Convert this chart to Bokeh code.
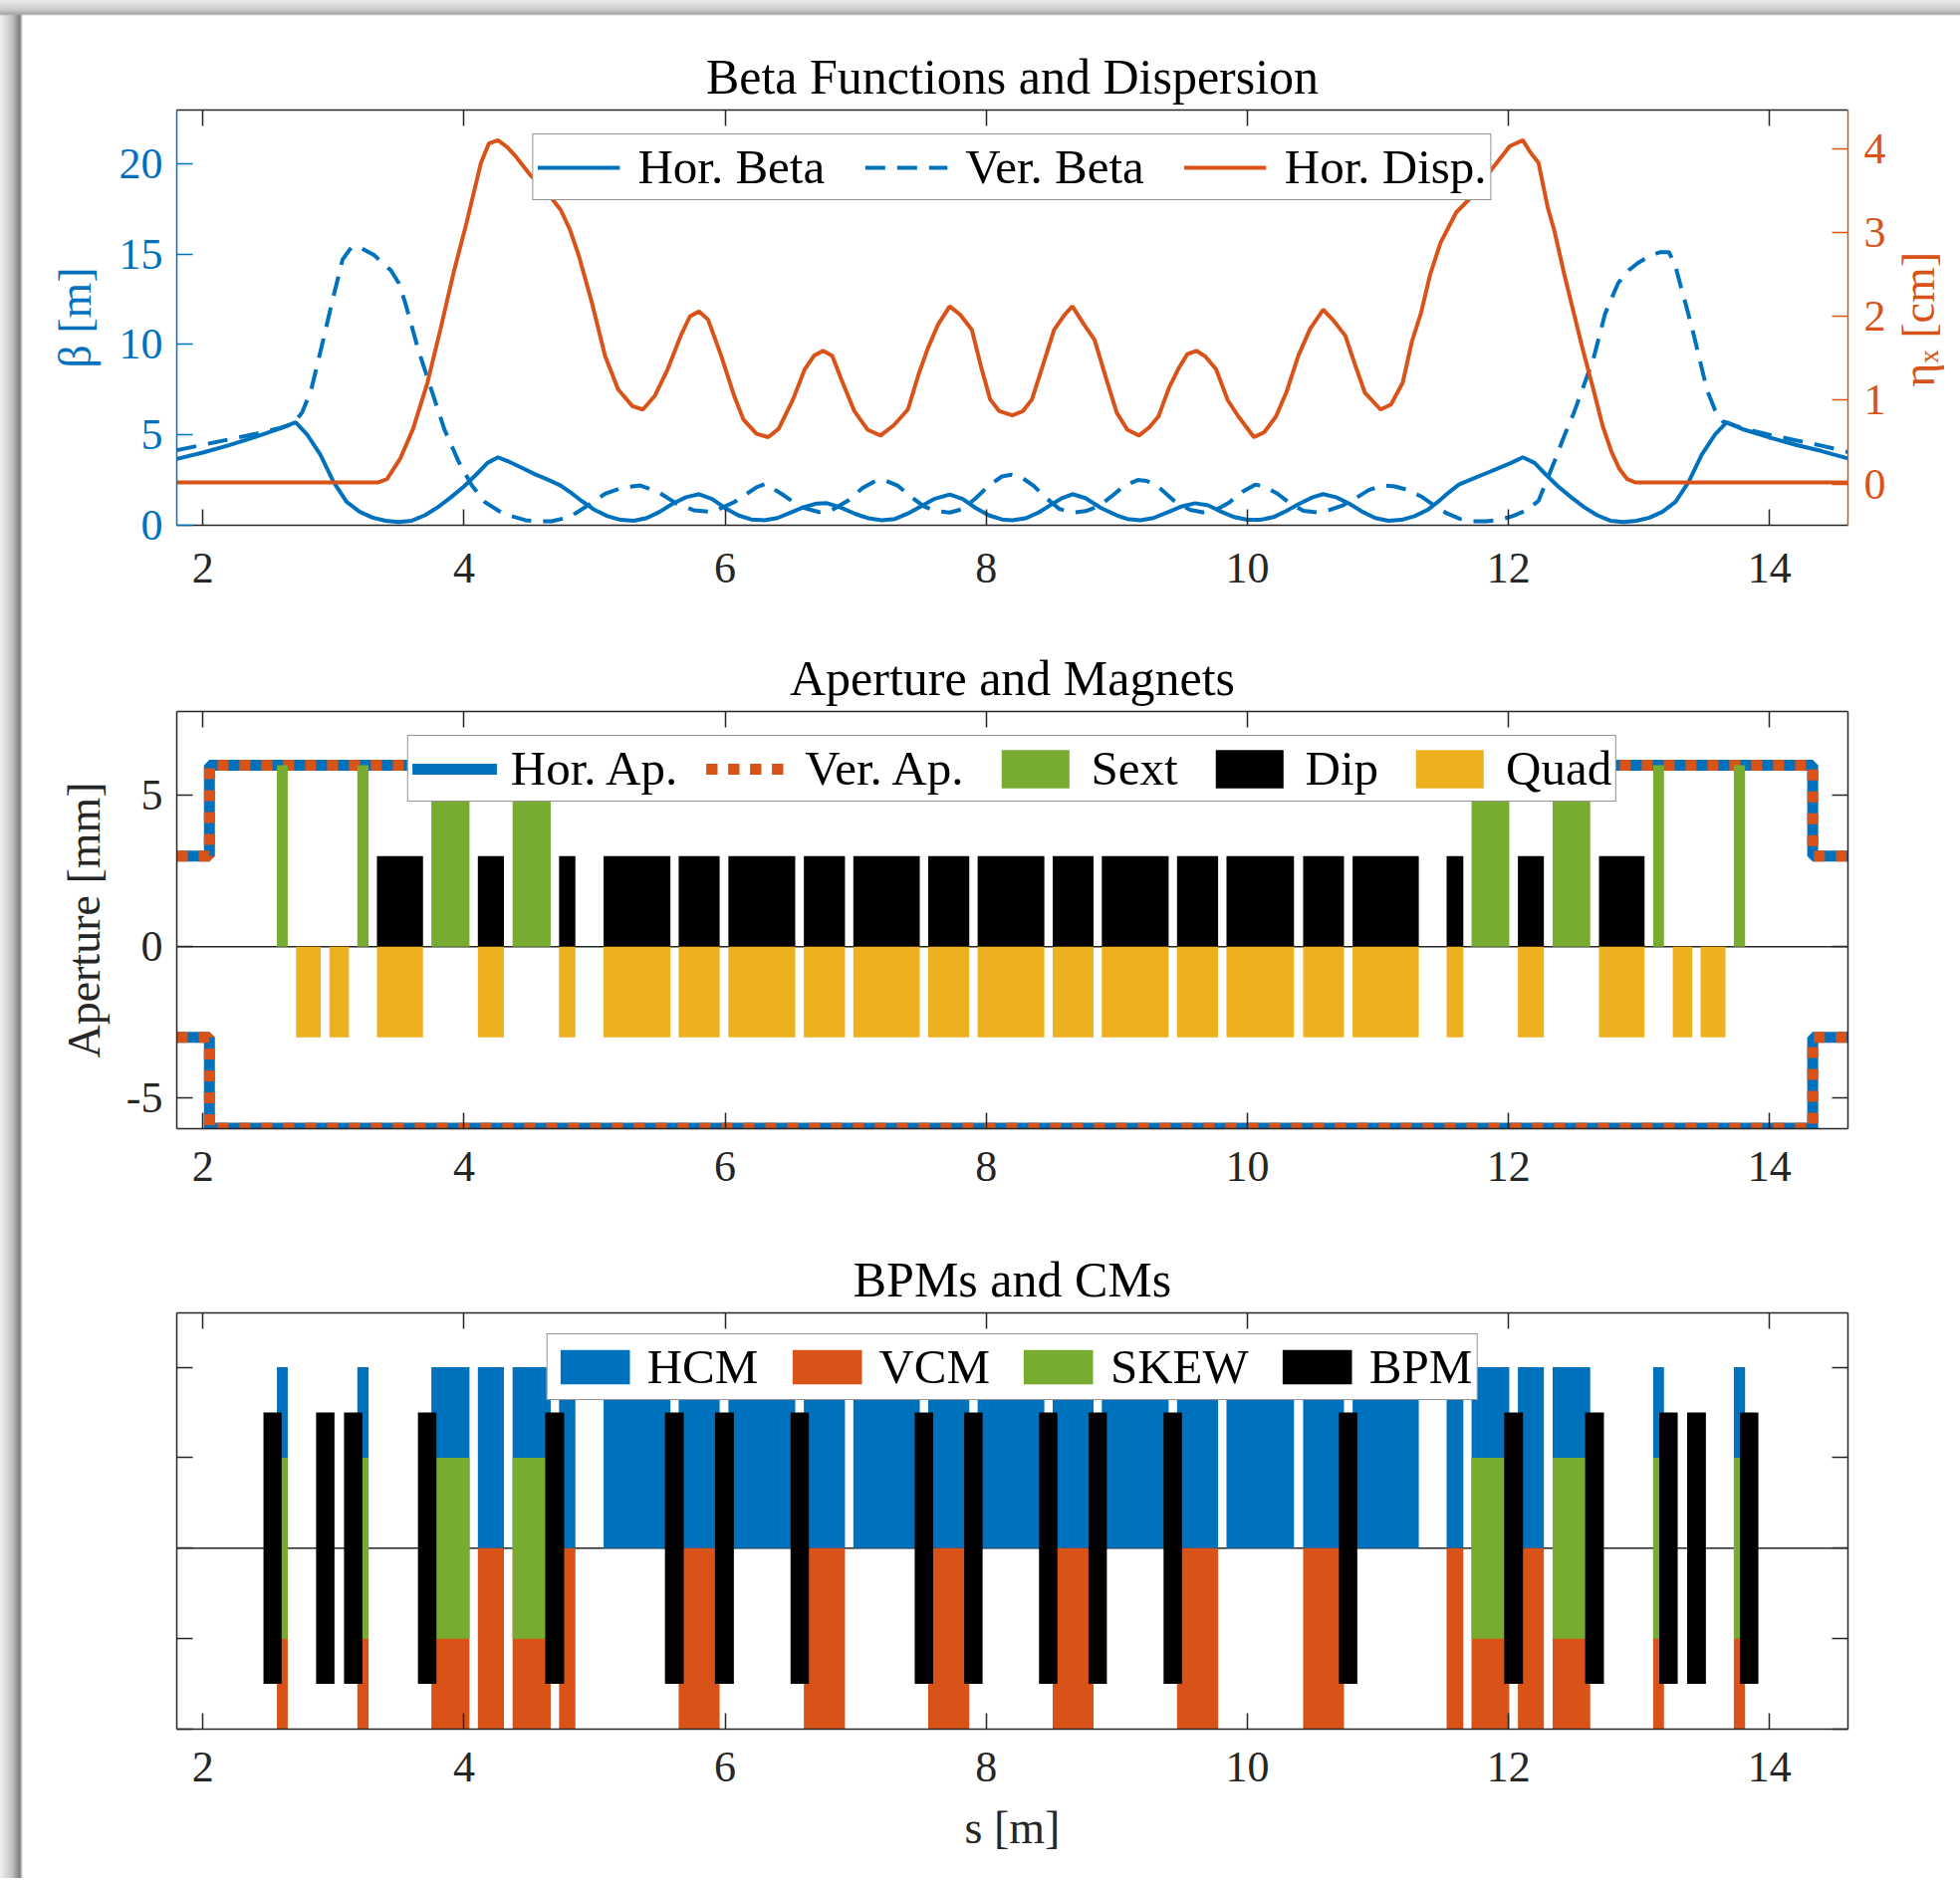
import math
from bokeh.plotting import figure
from bokeh.models import Range1d, LinearAxis, Legend, LegendItem, FixedTicker, Span, Div
from bokeh.layouts import column, row
from bokeh.embed import file_html
from bokeh.resources import INLINE

# ---------------- data ----------------
s_beta_x = [1.80, 2.00, 2.20, 2.40, 2.60, 2.71, 2.80, 2.90, 3.00, 3.10, 3.20, 3.30, 3.40, 3.50, 3.60, 3.70, 3.80, 3.90,
            4.00, 4.10, 4.18, 4.26, 4.35, 4.45, 4.55, 4.65, 4.74, 4.82, 4.90, 5.00, 5.10, 5.20, 5.30, 5.40, 5.50, 5.60,
            5.70, 5.80, 5.90, 6.00, 6.10, 6.20, 6.30, 6.40, 6.50, 6.60, 6.70, 6.78, 6.88, 7.00, 7.10, 7.20, 7.30, 7.40,
            7.50, 7.60, 7.72, 7.82, 7.92, 8.02, 8.12, 8.20, 8.30, 8.40, 8.50, 8.58, 8.66, 8.76, 8.88, 9.00, 9.08, 9.18,
            9.28, 9.40, 9.50, 9.60, 9.70, 9.80, 9.90, 10.00, 10.10, 10.20, 10.30, 10.40, 10.50, 10.58, 10.68, 10.78,
            10.88, 10.98, 11.08, 11.18, 11.28, 11.38, 11.46, 11.54, 11.62, 11.72, 11.82, 11.92, 12.02, 12.11, 12.20,
            12.28, 12.38, 12.48, 12.58, 12.68, 12.78, 12.88, 12.98, 13.08, 13.18, 13.28, 13.38, 13.48, 13.58, 13.67,
            13.80, 14.00, 14.20, 14.40, 14.60]
beta_x = [3.67, 4.02, 4.43, 4.88, 5.38, 5.69, 5.00, 3.90, 2.40, 1.30, 0.75, 0.42, 0.25, 0.18, 0.25, 0.55, 1.00, 1.55,
          2.15, 2.85, 3.45, 3.76, 3.50, 3.15, 2.80, 2.50, 2.20, 1.80, 1.35, 0.85, 0.50, 0.30, 0.25, 0.40, 0.75, 1.20,
          1.55, 1.72, 1.45, 0.95, 0.55, 0.32, 0.28, 0.40, 0.70, 1.00, 1.20, 1.22, 1.00, 0.62, 0.38, 0.28, 0.35, 0.65,
          1.05, 1.45, 1.70, 1.45, 0.95, 0.55, 0.32, 0.28, 0.38, 0.70, 1.15, 1.50, 1.72, 1.50, 0.95, 0.55, 0.35, 0.28,
          0.40, 0.75, 1.05, 1.22, 1.10, 0.75, 0.45, 0.30, 0.30, 0.45, 0.80, 1.20, 1.55, 1.72, 1.55, 1.20,
          0.75, 0.40, 0.25, 0.30, 0.50, 0.85, 1.30, 1.80, 2.25, 2.55, 2.85, 3.15, 3.45, 3.76, 3.45,
          2.85, 2.15, 1.55, 1.00, 0.55, 0.25, 0.18, 0.25, 0.42, 0.75, 1.30, 2.40, 3.90, 5.00, 5.69,
          5.30, 4.85, 4.45, 4.10, 3.70]

s_beta_y = [1.80, 2.00, 2.20, 2.40, 2.60, 2.69, 2.76, 2.83, 2.91, 3.00, 3.07, 3.14, 3.22, 3.31, 3.44, 3.50, 3.55, 3.60,
            3.65, 3.75, 3.85, 3.96, 4.06, 4.16, 4.30, 4.47, 4.57, 4.67, 4.81, 4.95, 5.08, 5.22, 5.35, 5.49, 5.63, 5.76,
            5.90, 6.07, 6.24, 6.31, 6.45, 6.58, 6.72, 6.82, 6.95, 7.05, 7.15, 7.22, 7.32, 7.42, 7.52, 7.62, 7.72, 7.82,
            7.92, 8.02, 8.12, 8.19, 8.26, 8.36, 8.46, 8.56, 8.66, 8.76, 8.86, 8.96, 9.06, 9.16, 9.23, 9.33, 9.43, 9.56,
            9.66, 9.76, 9.86, 9.96, 10.06, 10.13, 10.23, 10.33, 10.43, 10.53, 10.63, 10.73, 10.83, 10.93, 11.03,
            11.13, 11.23, 11.33, 11.43, 11.53, 11.63, 11.73, 11.83, 11.93, 12.03, 12.13, 12.23, 12.35, 12.43, 12.50,
            12.58, 12.65, 12.74, 12.84, 12.92, 12.99, 13.08, 13.16, 13.23, 13.28, 13.32, 13.37, 13.42, 13.47, 13.52,
            13.58, 13.64, 13.80, 14.00, 14.20, 14.40, 14.60]
beta_y = [4.15, 4.45, 4.75, 5.05, 5.40, 5.60, 6.24, 7.50, 9.90, 12.66, 14.70, 15.40, 15.30, 14.95, 14.10, 13.40, 12.30,
          11.00, 9.70, 7.50, 5.30, 3.50, 2.20, 1.28, 0.64, 0.28, 0.22, 0.22, 0.46, 1.10, 1.74, 2.10, 2.20, 1.83, 1.19,
          0.83, 0.73, 1.28, 2.10, 2.29, 1.65, 1.00, 0.73, 0.85, 1.40, 2.05, 2.45, 2.50, 2.20, 1.60, 1.05, 0.78, 0.70,
          0.90, 1.50, 2.20, 2.70, 2.80, 2.70, 2.20, 1.50, 0.90, 0.70, 0.78, 1.05, 1.60, 2.20, 2.50, 2.45, 2.05, 1.40,
          0.85, 0.72, 0.85, 1.25, 1.85, 2.25, 2.15, 1.75, 1.20, 0.80, 0.72, 0.85, 1.10, 1.50, 1.95, 2.20,
          2.15, 1.95, 1.60, 1.10, 0.65, 0.35, 0.22, 0.22, 0.30, 0.50, 0.80, 1.35, 3.50, 5.00, 6.20,
          7.80, 9.20, 11.70, 13.40, 14.10, 14.50, 14.90, 15.10, 15.10, 14.30, 13.20, 11.90, 10.50, 9.00, 7.50,
          6.40, 5.75, 5.35, 5.00, 4.70, 4.40, 4.05]

s_eta = [1.80, 2.50, 3.00, 3.34, 3.41, 3.51, 3.61, 3.72, 3.82, 3.92, 4.02, 4.13, 4.19, 4.26, 4.33, 4.40, 4.50, 4.64,
         4.74, 4.81, 4.88, 4.98, 5.08, 5.18, 5.29, 5.37, 5.46, 5.56, 5.66, 5.73, 5.80, 5.87, 5.97, 6.07, 6.14, 6.24,
         6.33, 6.41, 6.52, 6.61, 6.68, 6.75, 6.82, 6.89, 6.99, 7.09, 7.19, 7.29, 7.40, 7.48, 7.55, 7.63, 7.72, 7.80,
         7.89, 7.96, 8.03, 8.10, 8.20, 8.28, 8.35, 8.43, 8.52, 8.60, 8.66, 8.75, 8.83, 8.92, 9.00, 9.08, 9.17, 9.25,
         9.32, 9.40, 9.47, 9.54, 9.61, 9.68, 9.76, 9.85, 9.93, 10.05, 10.13, 10.22, 10.30, 10.39, 10.48, 10.58,
         10.66, 10.75, 10.83, 10.90, 11.02, 11.10, 11.19, 11.26, 11.33, 11.40, 11.48, 11.60, 11.72, 11.87, 12.01,
         12.11, 12.17, 12.23, 12.30, 12.35, 12.42, 12.50, 12.57, 12.65, 12.72, 12.79, 12.85, 12.91, 12.97, 13.03,
         13.50, 14.00, 14.60]
eta_x = [0.02, 0.02, 0.02, 0.02, 0.06, 0.30, 0.66, 1.21, 1.85, 2.52, 3.12, 3.83, 4.06, 4.10, 4.02, 3.90, 3.70, 3.47,
         3.27, 3.04, 2.72, 2.16, 1.53, 1.13, 0.93, 0.89, 1.05, 1.37, 1.77, 2.00, 2.06, 1.96, 1.53, 1.05, 0.77, 0.60,
         0.56, 0.66, 1.01, 1.37, 1.53, 1.59, 1.53, 1.25, 0.87, 0.65, 0.58, 0.70, 0.89, 1.30, 1.61, 1.90, 2.12, 2.02,
         1.84, 1.40, 1.01, 0.87, 0.82, 0.87, 1.01, 1.40, 1.84, 2.02, 2.12, 1.90, 1.72, 1.25, 0.85, 0.65, 0.58, 0.68,
         0.81, 1.15, 1.37, 1.55, 1.59, 1.52, 1.37, 1.00, 0.81, 0.56, 0.62, 0.81, 1.10, 1.53, 1.85, 2.08,
         1.95, 1.77, 1.40, 1.09, 0.89, 0.95, 1.21, 1.70, 2.04, 2.50, 2.88, 3.24, 3.43, 3.75, 4.03,
         4.10, 3.95, 3.83, 3.30, 3.03, 2.55, 2.04, 1.60, 1.13, 0.70, 0.38, 0.18, 0.06, 0.02, 0.02,
         0.02, 0.02, 0.02]

# aperture [mm]
ap_s = [1.80, 2.05, 2.05, 14.33, 14.33, 14.60]
ap_upper = [3, 3, 6, 6, 3, 3]
ap_lower = [-3, -3, -6, -6, -3, -3]

# magnets (start, end in m)
sext_start = [2.567, 3.183, 3.750, 4.372, 11.717, 12.338, 13.108, 13.726]
sext_end = [2.650, 3.269, 4.042, 4.664, 12.006, 12.626, 13.191, 13.812]
sext_top = 6.0
dip_start = [3.333, 4.106, 4.728, 5.069, 5.644, 6.025, 6.603, 6.982, 7.555, 7.934, 8.509, 8.885, 9.461, 9.840,
             10.427, 10.806, 11.526, 12.072, 12.693]
dip_end = [3.686, 4.306, 4.853, 5.581, 5.958, 6.537, 6.918, 7.491, 7.870, 8.445, 8.822, 9.397, 9.776, 10.357,
           10.740, 11.313, 11.654, 12.271, 13.042]
dip_top = 3.0
quad_start = [2.714, 2.969, 3.333, 4.106, 4.728, 5.069, 5.644, 6.025, 6.603, 6.982, 7.555, 7.934, 8.509, 8.885,
              9.461, 9.840, 10.427, 10.806, 11.526, 12.072, 12.693, 13.258, 13.471]
quad_end = [2.903, 3.119, 3.686, 4.306, 4.853, 5.581, 5.958, 6.537, 6.918, 7.491, 7.870, 8.445, 8.822, 9.397,
            9.776, 10.357, 10.740, 11.313, 11.654, 12.271, 13.042, 13.407, 13.662]
quad_bottom = -3.0

# correctors / BPMs
hcm_start = [2.567, 3.183, 3.750, 4.106, 4.372, 4.728, 5.069, 5.644, 6.025, 6.603, 6.982, 7.555, 7.934, 8.509,
             8.885, 9.461, 9.840, 10.427, 10.806, 11.526, 11.717, 12.072, 12.338, 13.108, 13.726]
hcm_end = [2.650, 3.269, 4.042, 4.306, 4.664, 4.853, 5.581, 5.958, 6.537, 6.918, 7.491, 7.870, 8.445, 8.822,
           9.397, 9.776, 10.357, 10.740, 11.313, 11.654, 12.006, 12.271, 12.626, 13.191, 13.812]
vcm_start = [2.567, 3.183, 3.750, 4.106, 4.372, 4.728, 5.644, 6.603, 7.555, 8.509, 9.461, 10.427, 11.526, 11.717,
             12.072, 12.338, 13.108, 13.726]
vcm_end = [2.650, 3.269, 4.042, 4.306, 4.664, 4.853, 5.958, 6.918, 7.870, 8.822, 9.776, 10.740, 11.654, 12.006,
           12.271, 12.626, 13.191, 13.812]
skew_start = sext_start
skew_end = sext_end
bpm_start = [2.464, 2.867, 3.081, 3.647, 4.622, 5.539, 5.922, 6.501, 7.452, 7.831, 8.404, 8.783, 9.358, 10.701,
             11.967, 12.587, 13.155, 13.368, 13.773]
bpm_end = [2.603, 3.008, 3.222, 3.789, 4.767, 5.683, 6.067, 6.642, 7.593, 7.972, 8.545, 8.924, 9.499, 10.842,
           12.111, 12.731, 13.296, 13.512, 13.914]
hcm_range = (0.0, 2.0)
vcm_range = (-2.0, 0.0)
skew_range = (-1.0, 1.0)
bpm_range = (-1.5, 1.5)

x_ticks = [2, 4, 6, 8, 10, 12, 14]
beta_ticks = [0, 5, 10, 15, 20]
eta_ticks = [0, 1, 2, 3, 4]
ap_ticks = [-5, 0, 5]
cm_ticks = [-2, -1, 0, 1, 2]

# ---------------- style ----------------
FONT = "Liberation Serif"
AX = "#262626"
BLUE = "#0072BD"
ORANGE = "#D95319"
YELLOW = "#EDB120"
GREEN = "#77AC30"
BLACK = "#000000"
TICK_FS = "44px"
LAB_FS = "46px"
TITLE_FS = "50px"
LEG_FS = "49px"


def style_axis(ax, color, ticks, labels=True, standoff=12):
    ax.ticker = FixedTicker(ticks=ticks)
    ax.axis_line_color = color
    ax.axis_line_width = 1.5
    ax.major_tick_line_color = color
    ax.major_tick_line_width = 1.5
    ax.major_tick_in = 16
    ax.major_tick_out = 0
    ax.minor_tick_line_color = None
    ax.major_label_text_font = FONT
    if labels:
        ax.major_label_text_color = color
        ax.major_label_text_font_size = TICK_FS
        ax.major_label_standoff = standoff
    else:
        ax.major_label_text_color = None
        ax.major_label_text_font_size = "1px"
        ax.major_label_standoff = 0
    ax.axis_label_text_font = FONT
    ax.axis_label_text_font_size = LAB_FS
    ax.axis_label_text_font_style = "normal"
    ax.axis_label_text_color = color


def make_fig(width, height, top, bottom, right, title, yr):
    p = figure(width=width, height=height, x_range=Range1d(1.8, 14.6), y_range=Range1d(*yr),
               output_backend="svg", toolbar_location=None, tools="",
               min_border_left=177, min_border_right=right, min_border_top=top, min_border_bottom=bottom,
               x_axis_location=None, y_axis_location=None, title=title)
    p.outline_line_color = None
    p.background_fill_color = "white"
    p.border_fill_color = None
    p.grid.grid_line_color = None
    p.title.text_font = FONT
    p.title.text_font_size = TITLE_FS
    p.title.text_font_style = "normal"
    p.title.text_color = BLACK
    p.title.align = "center"
    p.title.standoff = 12
    return p


def legend(items, margin, gw, gh, standoff, spacing):
    lg = Legend(items=items, orientation="horizontal", location="top_center", margin=margin,
                padding=4, spacing=spacing, label_standoff=standoff, glyph_width=gw, glyph_height=gh,
                label_text_font=FONT, label_text_font_size=LEG_FS, label_text_color=BLACK,
                border_line_color=AX, border_line_width=1.5, background_fill_color="white",
                background_fill_alpha=1.0)
    return lg


# ---------------- top: beta functions and dispersion ----------------
p1 = make_fig(1900, 615, 110, 88, 45, "Beta Functions and Dispersion", (0, 22.97))
p1.extra_y_ranges = {"eta": Range1d(-0.49, 4.46)}

r_bx = p1.line(s_beta_x, beta_x, line_color=BLUE, line_width=4)
r_by = p1.line(s_beta_y, beta_y, line_color=BLUE, line_width=4, line_dash="20 12")
r_eta = p1.line(s_eta, eta_x, line_color=ORANGE, line_width=4, y_range_name="eta")

ax = LinearAxis(); style_axis(ax, AX, x_ticks, standoff=28); p1.add_layout(ax, "below")
ax = LinearAxis(); style_axis(ax, AX, x_ticks, labels=False); p1.add_layout(ax, "above")
ax = LinearAxis(axis_label="β [m]"); style_axis(ax, BLUE, beta_ticks, standoff=14)
ax.axis_label_standoff = 16
p1.add_layout(ax, "left")
ax = LinearAxis(y_range_name="eta"); style_axis(ax, ORANGE, eta_ticks, standoff=16)
p1.add_layout(ax, "right")

p1.add_layout(legend([LegendItem(label="Hor. Beta", renderers=[r_bx]),
                      LegendItem(label="Ver. Beta", renderers=[r_by]),
                      LegendItem(label="Hor. Disp.", renderers=[r_eta])], 24, 83, 40, 18, 40))

# right-hand axis title, reading bottom-to-top as in the reference
eta_label = Div(
    text=('<div style="width:54px;height:615px;display:flex;align-items:center;justify-content:center;'
          'padding-top:26px;box-sizing:border-box;">'
          '<span style="writing-mode:vertical-rl;transform:rotate(180deg);white-space:nowrap;'
          "font-family:'Liberation Serif';font-size:46px;color:#D95319;line-height:1;\">"
          'ηₓ [cm]</span></div>'),
    width=54, height=615, margin=0)

# ---------------- middle: aperture and magnets ----------------
p2 = make_fig(1968, 600, 99, 82, 113, "Aperture and Magnets", (-6.02, 7.78))
p2.add_layout(Span(location=0, dimension="width", line_color=AX, line_width=1.5, level="underlay"))
r_ha1 = p2.line(ap_s, ap_upper, line_color=BLUE, line_width=11)
r_ha2 = p2.line(ap_s, ap_lower, line_color=BLUE, line_width=11)
r_va1 = p2.line(ap_s, ap_upper, line_color=ORANGE, line_width=11, line_dash="11 11")
r_va2 = p2.line(ap_s, ap_lower, line_color=ORANGE, line_width=11, line_dash="11 11")
r_sext = p2.quad(left=sext_start, right=sext_end, bottom=0, top=sext_top, fill_color=GREEN, line_color=None)
r_dip = p2.quad(left=dip_start, right=dip_end, bottom=0, top=dip_top, fill_color=BLACK, line_color=None)
r_quad = p2.quad(left=quad_start, right=quad_end, bottom=quad_bottom, top=0, fill_color=YELLOW, line_color=None)

ax = LinearAxis(); style_axis(ax, AX, x_ticks, standoff=23); p2.add_layout(ax, "below")
ax = LinearAxis(); style_axis(ax, AX, x_ticks, labels=False); p2.add_layout(ax, "above")
ax = LinearAxis(axis_label="Aperture [mm]"); style_axis(ax, AX, ap_ticks, standoff=14)
ax.major_label_overrides = {-5: "-5", 0: "0", 5: "5"}
ax.axis_label_standoff = 14
p2.add_layout(ax, "left")
ax = LinearAxis(); style_axis(ax, AX, ap_ticks, labels=False); p2.add_layout(ax, "right")

p2.add_layout(legend([LegendItem(label="Hor. Ap.", renderers=[r_ha1, r_ha2]),
                      LegendItem(label="Ver. Ap.", renderers=[r_va1, r_va2]),
                      LegendItem(label="Sext", renderers=[r_sext]),
                      LegendItem(label="Dip", renderers=[r_dip]),
                      LegendItem(label="Quad", renderers=[r_quad])], 24, 85, 48, 14, 29))

# ---------------- bottom: BPMs and CMs ----------------
p3 = make_fig(1968, 671, 103, 150, 113, "BPMs and CMs", (-2.0, 2.6))
p3.add_layout(Span(location=0, dimension="width", line_color=AX, line_width=1.5, level="underlay"))
r_h = p3.quad(left=hcm_start, right=hcm_end, bottom=hcm_range[0], top=hcm_range[1], fill_color=BLUE, line_color=None)
r_v = p3.quad(left=vcm_start, right=vcm_end, bottom=vcm_range[0], top=vcm_range[1], fill_color=ORANGE, line_color=None)
r_s = p3.quad(left=skew_start, right=skew_end, bottom=skew_range[0], top=skew_range[1], fill_color=GREEN, line_color=None)
r_b = p3.quad(left=bpm_start, right=bpm_end, bottom=bpm_range[0], top=bpm_range[1], fill_color=BLACK, line_color=None)

ax = LinearAxis(axis_label="s [m]"); style_axis(ax, AX, x_ticks, standoff=23)
ax.axis_label_standoff = 18
p3.add_layout(ax, "below")
ax = LinearAxis(); style_axis(ax, AX, x_ticks, labels=False); p3.add_layout(ax, "above")
ax = LinearAxis(); style_axis(ax, AX, cm_ticks, labels=False); p3.add_layout(ax, "left")
ax = LinearAxis(); style_axis(ax, AX, cm_ticks, labels=False); p3.add_layout(ax, "right")

p3.add_layout(legend([LegendItem(label="HCM", renderers=[r_h]),
                      LegendItem(label="VCM", renderers=[r_v]),
                      LegendItem(label="SKEW", renderers=[r_s]),
                      LegendItem(label="BPM", renderers=[r_b])], 21, 87, 43, 9, 25))

shadow = ("linear-gradient(to bottom, #ececec 0px, #c9c9c9 10px, #a6a6a6 14px, rgba(255,255,255,0) 16px), "
          "linear-gradient(to right, #f0f0f0 0px, #c4c4c4 12px, #7d7d7d 20px, #ffffff 23px)")
layout = column(row(p1, eta_label, spacing=0), p2, p3, spacing=0, styles={"background": shadow})
open("out.html", "w").write(file_html(layout, INLINE))
